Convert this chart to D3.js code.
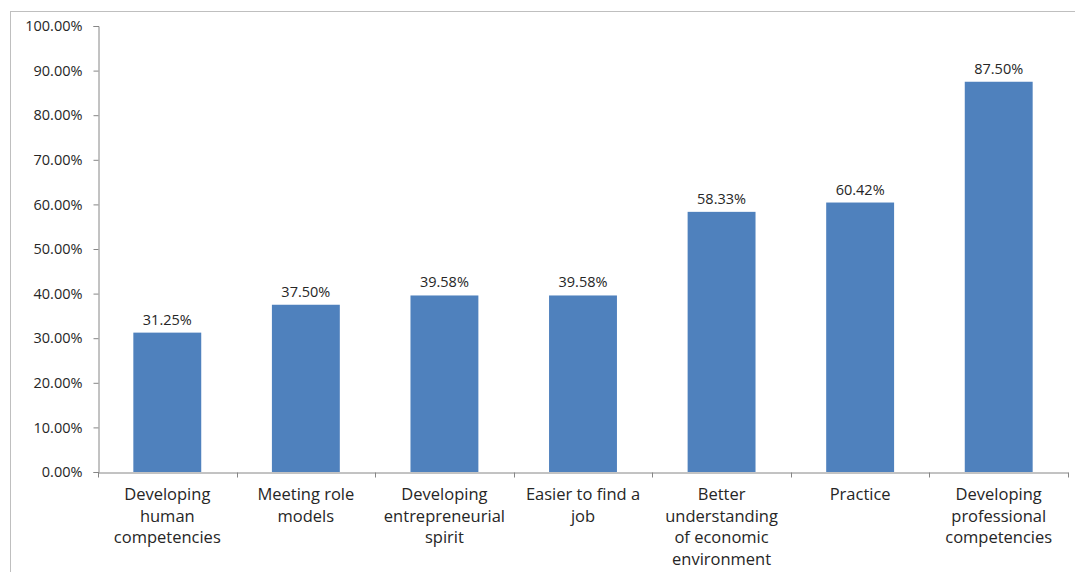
<!DOCTYPE html>
<html><head><meta charset="utf-8">
<script src="https://cdn.jsdelivr.net/npm/d3@7"></script>
<style>
body{margin:0;background:#fff;}
svg{display:block;}
text{font-family:"Open Sans",sans-serif;fill:#262626;}
</style></head>
<body>
<svg id="chart" width="1075" height="572"></svg>
<script>
const categories = [
  "Developing\nhuman\ncompetencies",
  "Meeting role\nmodels",
  "Developing\nentrepreneurial\nspirit",
  "Easier to find a\njob",
  "Better\nunderstanding\nof economic\nenvironment",
  "Practice",
  "Developing\nprofessional\ncompetencies"
];
const values = [31.25, 37.50, 39.58, 39.58, 58.33, 60.42, 87.50];
const yTicks = [0,10,20,30,40,50,60,70,80,90,100];

const svg = d3.select("#chart");
const W = 1075, H = 572;
const m = {left: 98, right: 7, top: 26, bottom: 100};

// outer border
svg.append("rect").attr("x",10.5).attr("y",11.5).attr("width",W).attr("height",H)
  .attr("fill","none").attr("stroke","#bfbfbf").attr("stroke-width",1);

const x = d3.scaleBand().domain(categories).range([m.left, W - m.right]).paddingInner(0.51).paddingOuter(0.255);
const y = d3.scaleLinear().domain([0,100]).range([H - m.bottom, m.top]);

// bars
svg.append("g").selectAll("rect").data(values).join("rect")
  .attr("x",(d,i)=>x(categories[i]))
  .attr("y",d=>y(d))
  .attr("width",x.bandwidth())
  .attr("height",d=>y(0)-y(d))
  .attr("fill","#4F81BD");

// value labels
svg.append("g").selectAll("text").data(values).join("text")
  .attr("x",(d,i)=>x(categories[i]) + x.bandwidth()/2)
  .attr("y",d=>y(d) - 8)
  .attr("text-anchor","middle")
  .attr("font-size","14.5px")
  .text(d=>d3.format(".2f")(d)+"%");

// y axis
const yAxis = d3.axisLeft(y).tickValues(yTicks).tickSize(5).tickPadding(11)
  .tickFormat(d=>d3.format(".2f")(d)+"%");
const gy = svg.append("g").attr("transform",`translate(${m.left+0.5},0)`).call(yAxis);
gy.selectAll("path,line").attr("stroke","#868686");
gy.selectAll("text").attr("font-size","14.5px").attr("font-family","'Open Sans',sans-serif").attr("fill","#262626");

// x axis
const xAxis = d3.axisBottom(x).tickSize(0).tickFormat("");
const gx = svg.append("g").attr("transform",`translate(0,${y(0)+0.5})`).call(xAxis);
gx.select("path").attr("stroke","#868686");
// category boundary ticks
const bounds = categories.map(c => x(c) - x.step()*x.paddingInner()/2).concat([W - m.right]);
gx.selectAll("line.bt").data(bounds).join("line").attr("class","bt")
  .attr("x1",d=>Math.round(d)+0.5).attr("x2",d=>Math.round(d)+0.5)
  .attr("y1",0).attr("y2",5).attr("stroke","#868686");

// category labels
const lab = svg.append("g").selectAll("text").data(categories).join("text")
  .attr("text-anchor","middle")
  .attr("font-size","16.5px")
  .attr("x",d=>x(d)+x.bandwidth()/2)
  .attr("y",y(0)+28);
lab.each(function(d){
  const t = d3.select(this);
  d.split("\n").forEach((line,i)=>{
    t.append("tspan").attr("x",x(d)+x.bandwidth()/2).attr("dy",i===0?0:21.7).text(line);
  });
});
</script>
</body></html>
